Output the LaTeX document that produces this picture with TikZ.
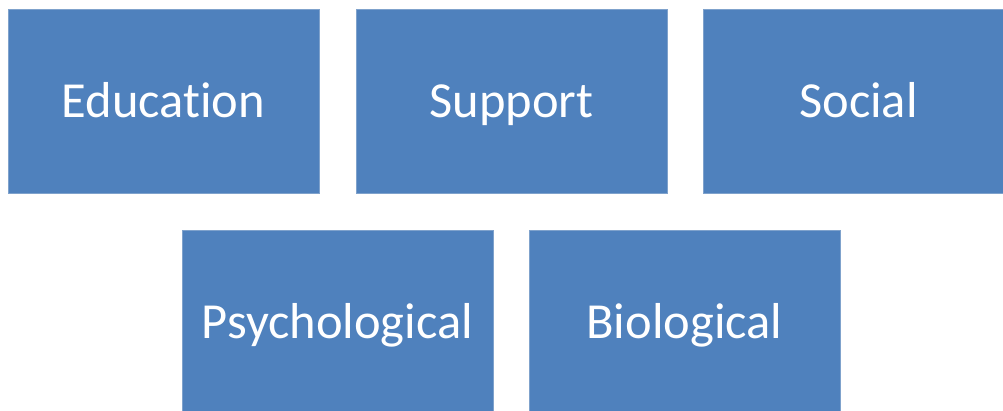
\documentclass[tikz,border=0pt]{standalone}
\usepackage{fontspec}
\setmainfont{Carlito}[Ligatures=NoCommon]
\definecolor{boxblue}{HTML}{4F81BD}
\definecolor{boxedge}{HTML}{7FA2CC}
\tikzset{
    factor/.style={draw=boxedge,line width=0.8pt,fill=boxblue,text=white,minimum width=311pt,minimum height=184pt,inner sep=0pt,text height=32pt,text depth=0pt,font=\fontsize{50.5}{60}\selectfont}
}
\begin{document}
\begin{tikzpicture}[x=1pt,y=-1pt]
            \useasboundingbox (0,0) rectangle (1003,410);
            \node[factor] (edu) at (163.5,101) {Education};
            \node[factor] (sup) at (511.5,101) {Support};
            \node[factor] (soc) at (858.5,101) {Social};
            \node[factor] (psy) at (337.5,322) {Psychological};
            \node[factor] (bio) at (684.5,322) {Biological};
        \end{tikzpicture}
\end{document}
